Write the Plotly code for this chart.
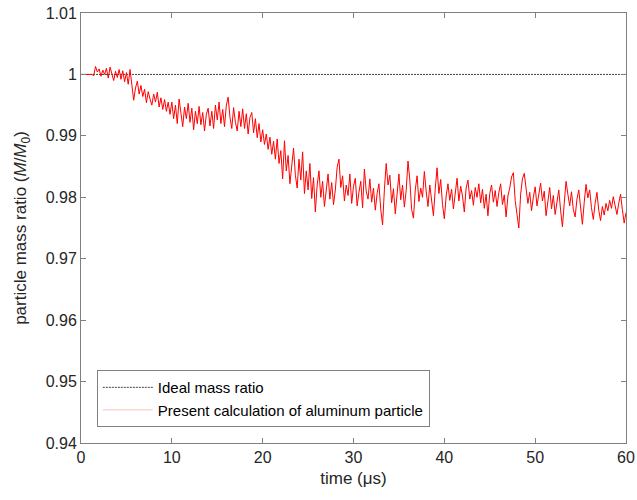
import plotly.graph_objects as go

mass_ratio = [
    1.0000, 1.0000, 1.0000, 1.0000, 1.0000,
    1.0000, 1.0000, 0.9998, 1.0013, 1.0004,
    1.0009, 0.9997, 1.0007, 1.0000, 1.0010,
    0.9994, 1.0012, 1.0001, 0.9990, 1.0005,
    0.9995, 1.0008, 0.9992, 1.0006, 0.9988,
    1.0003, 0.9984, 1.0008, 0.9980, 0.9958,
    0.9978, 0.9989, 0.9968, 0.9982, 0.9964,
    0.9976, 0.9954, 0.9972, 0.9960, 0.9950,
    0.9968, 0.9955, 0.9971, 0.9947, 0.9962,
    0.9943, 0.9959, 0.9940, 0.9955, 0.9935,
    0.9955, 0.9928, 0.9950, 0.9920, 0.9960,
    0.9938, 0.9915, 0.9947, 0.9928, 0.9953,
    0.9922, 0.9945, 0.9910, 0.9940, 0.9920,
    0.9948, 0.9918, 0.9938, 0.9908, 0.9935,
    0.9945, 0.9916, 0.9940, 0.9912, 0.9950,
    0.9926, 0.9955, 0.9920, 0.9943, 0.9915,
    0.9950, 0.9963, 0.9930, 0.9912, 0.9946,
    0.9922, 0.9908, 0.9940, 0.9915, 0.9944,
    0.9912, 0.9936, 0.9903, 0.9930, 0.9938,
    0.9905, 0.9928, 0.9897, 0.9920, 0.9890,
    0.9910, 0.9886, 0.9903, 0.9878, 0.9898,
    0.9870, 0.9891, 0.9862, 0.9895, 0.9855,
    0.9876, 0.9830, 0.9892, 0.9843, 0.9868,
    0.9822, 0.9857, 0.9880, 0.9836, 0.9815,
    0.9862, 0.9828, 0.9874, 0.9806, 0.9843,
    0.9812, 0.9855, 0.9798, 0.9832, 0.9776,
    0.9820, 0.9843, 0.9800, 0.9826, 0.9785,
    0.9815, 0.9838, 0.9797, 0.9824, 0.9788,
    0.9812, 0.9849, 0.9862, 0.9816, 0.9835,
    0.9794, 0.9820, 0.9803, 0.9838, 0.9790,
    0.9818, 0.9831, 0.9786, 0.9808, 0.9826,
    0.9783, 0.9846, 0.9810, 0.9797, 0.9830,
    0.9792, 0.9815, 0.9779, 0.9806, 0.9822,
    0.9780, 0.9755, 0.9812, 0.9855, 0.9820,
    0.9836, 0.9791, 0.9814, 0.9773, 0.9808,
    0.9838, 0.9796, 0.9820, 0.9784, 0.9811,
    0.9859, 0.9828, 0.9780, 0.9766, 0.9812,
    0.9835, 0.9793, 0.9815, 0.9800, 0.9842,
    0.9810, 0.9785, 0.9820, 0.9797, 0.9770,
    0.9814, 0.9848, 0.9806, 0.9829, 0.9788,
    0.9765, 0.9802, 0.9822, 0.9795, 0.9813,
    0.9781, 0.9808, 0.9831, 0.9794, 0.9818,
    0.9802, 0.9776, 0.9815, 0.9828, 0.9797,
    0.9811, 0.9787, 0.9816, 0.9800, 0.9822,
    0.9791, 0.9813, 0.9782, 0.9805, 0.9770,
    0.9806, 0.9820, 0.9792, 0.9811, 0.9785,
    0.9808, 0.9822, 0.9788, 0.9804, 0.9768,
    0.9802, 0.9815, 0.9833, 0.9840, 0.9795,
    0.9772, 0.9750, 0.9805, 0.9830, 0.9839,
    0.9812, 0.9790, 0.9808, 0.9778, 0.9800,
    0.9817, 0.9786, 0.9803, 0.9823, 0.9794,
    0.9810, 0.9770, 0.9798, 0.9816, 0.9781,
    0.9803, 0.9772, 0.9796, 0.9812, 0.9779,
    0.9752, 0.9790, 0.9826, 0.9805, 0.9786,
    0.9809, 0.9780, 0.9768, 0.9797, 0.9812,
    0.9783, 0.9756, 0.9792, 0.9821, 0.9799,
    0.9812, 0.9783, 0.9764, 0.9790, 0.9808,
    0.9779, 0.9762, 0.9785, 0.9771, 0.9790,
    0.9778, 0.9795, 0.9782, 0.9801, 0.9786,
    0.9772, 0.9790, 0.9805, 0.9780, 0.9758,
    0.9775,
]
time_step = 0.2
time_us = [round(i * time_step, 1) for i in range(len(mass_ratio))]

ideal_time = [0, 60]
ideal_ratio = [1.0, 1.0]

x_ticks = [0, 10, 20, 30, 40, 50, 60]
y_ticks = [0.94, 0.95, 0.96, 0.97, 0.98, 0.99, 1.00, 1.01]
y_labels = ["0.94", "0.95", "0.96", "0.97", "0.98", "0.99", "1", "1.01"]

fig = go.Figure()
fig.add_trace(go.Scatter(
    x=ideal_time, y=ideal_ratio, mode="lines",
    line=dict(color="#444444", width=1, dash="2px,1px"),
    name="Ideal mass ratio",
))
fig.add_trace(go.Scatter(
    x=time_us, y=mass_ratio, mode="lines",
    line=dict(color="#ff0000", width=1),
    name="Present calculation of aluminum particle",
    showlegend=False,
))
# legend sample for the calculation (thin, faint as in the reference)
fig.add_trace(go.Scatter(
    x=[None], y=[None], mode="lines",
    line=dict(color="#ffc0c0", width=1),
    name="Present calculation of aluminum particle",
))

axis_common = dict(
    showline=True, linecolor="#808080", linewidth=1, mirror="ticks",
    ticks="inside", ticklen=5, tickcolor="#808080", tickwidth=1,
    showgrid=False, zeroline=False, automargin=False,
    tickfont=dict(family="Liberation Sans, Arial", size=16, color="#262626"),
)

fig.update_layout(
    width=637, height=500,
    margin=dict(l=81, r=11, t=13, b=57),
    paper_bgcolor="white", plot_bgcolor="white",
    font=dict(family="Liberation Sans, Arial", color="#262626"),
    xaxis=dict(
        range=[0, 60], tickvals=x_ticks,
        title=dict(text="time (μs)", font=dict(size=17), standoff=6),
        **axis_common,
    ),
    yaxis=dict(
        range=[0.94, 1.01], tickvals=y_ticks, ticktext=y_labels,
        title=dict(text="particle mass ratio (<i>M</i>/<i>M</i><sub>0</sub>)",
                   font=dict(size=17), standoff=14),
        **axis_common,
    ),
    legend=dict(
        x=0.029, y=0.037, xanchor="left", yanchor="bottom",
        bgcolor="white", bordercolor="#808080", borderwidth=1,
        font=dict(family="Liberation Sans, Arial", size=15, color="#000000"),
        tracegroupgap=0, itemwidth=50,
    ),
    showlegend=True,
)

fig.write_html("out.html")
